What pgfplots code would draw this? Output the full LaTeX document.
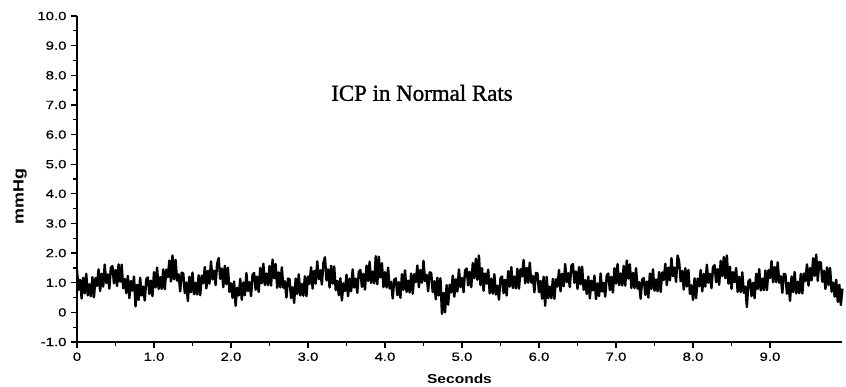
\documentclass[border=0pt]{standalone}
\usepackage{fontspec}
\usepackage{pgfplots}
\pgfplotsset{compat=1.18}
\setmainfont{Liberation Serif}
\newfontfamily\titlefont[FakeBold=1.2]{Liberation Serif}
\newfontfamily\tickfont[FakeStretch=1.25,FakeBold=0.6]{Liberation Sans}
\newfontfamily\labfont[FakeStretch=1.2]{Liberation Sans}
\begin{document}
\begin{tikzpicture}
\begin{axis}[
  name=ax,
  scale only axis,
  width=765bp, height=326bp,
  xmin=0, xmax=9.935, ymin=-1, ymax=10,
  axis lines=left,
  axis line style={-, line width=1.3bp},
  every tick/.style={black, line width=1.2bp},
  tick align=outside,
  major tick length=6bp,
  minor tick length=3.5bp,
  xtick={0,1,2,3,4,5,6,7,8,9},
  xticklabels={0,1.0,2.0,3.0,4.0,5.0,6.0,7.0,8.0,9.0},
  ytick={-1,0,1,2,3,4,5,6,7,8,9,10},
  yticklabels={-1.0,0,1.0,2.0,3.0,4.0,5.0,6.0,7.0,8.0,9.0,10.0},
  minor x tick num=1,
  minor y tick num=1,
  ticklabel style={font=\tickfont\fontsize{12}{14}\selectfont},
  xticklabel style={yshift=-1bp},
  yticklabel style={xshift=-1bp},
  xlabel={\labfont\bfseries\fontsize{13}{15}\selectfont Seconds},
  xlabel style={at={(rel axis cs:0.5,0)}, anchor=center, yshift=-37bp},
  clip=false,
]
\addplot[black, line width=2.4bp, line join=round] table {
x y
0.00 1.43
0.02 0.76
0.04 1.10
0.06 0.47
0.08 1.17
0.10 0.64
0.12 1.30
0.14 0.57
0.16 0.95
0.18 0.54
0.20 1.19
0.22 0.51
0.24 1.16
0.26 0.89
0.28 1.45
0.30 0.72
0.32 1.30
0.34 0.87
0.36 1.61
0.38 0.99
0.40 1.28
0.42 0.80
0.44 1.51
0.46 1.56
0.48 0.98
0.50 1.43
0.52 0.89
0.54 1.62
0.56 1.03
0.58 1.61
0.60 0.81
0.62 1.13
0.64 0.65
0.66 1.23
0.68 0.48
0.70 1.06
0.72 0.73
0.74 1.21
0.76 0.20
0.78 0.93
0.80 0.42
0.82 1.17
0.84 0.57
0.86 0.87
0.88 0.40
0.90 1.12
0.92 1.18
0.94 0.62
0.96 1.07
0.98 0.55
1.00 1.36
1.02 0.84
1.04 1.51
1.06 0.79
1.08 1.19
1.10 0.79
1.12 1.45
1.14 0.78
1.16 1.44
1.18 1.19
1.20 1.75
1.22 1.04
1.24 1.92
1.26 1.11
1.28 1.77
1.30 1.07
1.32 1.28
1.34 0.71
1.36 1.34
1.38 1.31
1.40 0.65
1.42 1.01
1.44 0.38
1.46 1.20
1.48 0.68
1.50 1.34
1.52 0.61
1.54 1.00
1.56 0.60
1.58 1.25
1.60 0.58
1.62 1.24
1.64 0.98
1.66 1.53
1.68 0.81
1.70 1.40
1.72 0.97
1.74 1.72
1.76 1.11
1.78 1.41
1.80 0.92
1.82 1.64
1.84 1.83
1.86 1.13
1.88 1.48
1.90 0.85
1.92 1.57
1.94 0.95
1.96 1.51
1.98 0.69
2.00 0.98
2.02 0.49
2.04 1.04
2.06 0.22
2.08 0.83
2.10 0.57
2.12 1.13
2.14 0.42
2.16 1.01
2.18 0.58
2.20 1.33
2.22 0.72
2.24 1.02
2.26 0.55
2.28 1.27
2.30 1.33
2.32 0.76
2.34 1.21
2.36 0.69
2.38 1.50
2.40 0.98
2.42 1.64
2.44 0.92
2.46 1.31
2.48 0.92
2.50 1.57
2.52 0.90
2.54 1.78
2.56 1.15
2.58 1.63
2.60 0.83
2.62 1.35
2.64 0.84
2.66 1.52
2.68 0.83
2.70 1.05
2.72 0.50
2.74 1.14
2.76 1.12
2.78 0.48
2.80 0.85
2.82 0.32
2.84 1.14
2.86 0.62
2.88 1.28
2.90 0.57
2.92 0.96
2.94 0.56
2.96 1.22
2.98 0.55
3.00 1.21
3.02 0.96
3.04 1.52
3.06 0.80
3.08 1.40
3.10 0.97
3.12 1.72
3.14 1.12
3.16 1.42
3.18 0.94
3.20 1.67
3.22 1.86
3.24 1.08
3.26 1.45
3.28 0.84
3.30 1.57
3.32 0.97
3.34 1.55
3.36 0.75
3.38 1.06
3.40 0.58
3.42 1.15
3.44 0.40
3.46 0.98
3.48 0.72
3.50 1.27
3.52 0.55
3.54 1.14
3.56 0.71
3.58 1.45
3.60 0.84
3.62 1.14
3.64 0.66
3.66 1.37
3.68 1.43
3.70 0.86
3.72 1.30
3.74 0.77
3.76 1.58
3.78 1.06
3.80 1.71
3.82 0.99
3.84 1.38
3.86 0.98
3.88 1.90
3.90 0.95
3.92 1.88
3.94 1.18
3.96 1.66
3.98 0.85
4.00 1.36
4.02 0.84
4.04 1.51
4.06 0.81
4.08 1.03
4.10 0.47
4.12 1.10
4.14 1.15
4.16 0.58
4.18 1.02
4.20 0.49
4.22 1.29
4.24 0.76
4.26 1.42
4.28 0.69
4.30 1.07
4.32 0.67
4.34 1.31
4.36 0.63
4.38 1.29
4.40 1.02
4.42 1.58
4.44 0.85
4.46 1.43
4.48 1.00
4.50 1.74
4.52 1.05
4.54 1.27
4.56 0.71
4.58 1.35
4.60 1.33
4.62 0.68
4.64 1.05
4.66 0.44
4.68 1.17
4.70 0.57
4.72 1.15
4.74 -0.05
4.76 0.66
4.78 0.00
4.80 0.92
4.82 0.26
4.84 0.93
4.86 0.67
4.88 1.24
4.90 0.53
4.92 1.12
4.94 0.70
4.96 1.45
4.98 0.85
5.00 1.16
5.02 0.68
5.04 1.41
5.06 1.48
5.08 0.91
5.10 1.37
5.12 0.85
5.14 1.66
5.16 1.15
5.18 1.81
5.20 1.10
5.22 1.92
5.24 0.92
5.26 1.49
5.28 0.73
5.30 1.31
5.32 0.97
5.34 1.44
5.36 0.64
5.38 1.14
5.40 0.63
5.42 1.29
5.44 0.60
5.46 0.90
5.48 0.43
5.50 1.15
5.52 1.21
5.54 0.65
5.56 1.10
5.58 0.57
5.60 1.39
5.62 0.87
5.64 1.53
5.66 0.82
5.68 1.21
5.70 0.81
5.72 1.47
5.74 0.80
5.76 1.46
5.78 1.21
5.80 1.77
5.82 0.98
5.84 1.50
5.86 1.00
5.88 1.68
5.90 1.00
5.92 1.23
5.94 0.68
5.96 1.33
5.98 1.32
6.00 0.68
6.02 1.06
6.04 0.46
6.06 1.20
6.08 0.22
6.10 1.20
6.12 0.48
6.14 0.87
6.16 0.48
6.18 1.13
6.20 0.46
6.22 1.12
6.24 0.87
6.26 1.43
6.28 0.71
6.30 1.30
6.32 0.88
6.34 1.63
6.36 1.02
6.38 1.32
6.40 0.85
6.42 1.57
6.44 1.63
6.46 1.00
6.48 1.38
6.50 0.79
6.52 1.53
6.54 0.95
6.56 1.54
6.58 0.76
6.60 1.09
6.62 0.62
6.64 1.21
6.66 0.47
6.68 1.07
6.70 0.74
6.72 1.24
6.74 0.45
6.76 0.98
6.78 0.55
6.80 1.31
6.82 0.70
6.84 1.00
6.86 0.53
6.88 1.25
6.90 1.31
6.92 0.75
6.94 1.20
6.96 0.67
6.98 1.49
7.00 0.97
7.02 1.63
7.04 0.92
7.06 1.31
7.08 0.91
7.10 1.57
7.12 0.90
7.14 1.75
7.16 1.14
7.18 1.62
7.20 0.82
7.22 1.33
7.24 0.82
7.26 1.49
7.28 0.80
7.30 1.02
7.32 0.46
7.34 1.10
7.36 1.16
7.38 0.59
7.40 1.04
7.42 0.50
7.44 1.31
7.46 0.79
7.48 1.45
7.50 0.73
7.52 1.11
7.54 0.71
7.56 1.36
7.58 0.69
7.60 1.35
7.62 1.09
7.64 1.64
7.66 0.92
7.68 1.51
7.70 1.08
7.72 1.83
7.74 1.22
7.76 1.51
7.78 1.03
7.80 1.92
7.82 1.71
7.84 1.05
7.86 1.40
7.88 0.77
7.90 1.49
7.92 0.87
7.94 1.43
7.96 0.62
7.98 0.91
8.00 0.42
8.02 1.15
8.04 0.48
8.06 1.14
8.08 0.88
8.10 1.43
8.12 0.71
8.14 1.30
8.16 0.87
8.18 1.61
8.20 1.00
8.22 1.30
8.24 0.82
8.26 1.53
8.28 1.59
8.30 1.02
8.32 1.46
8.34 0.93
8.36 1.74
8.38 1.22
8.40 1.87
8.42 1.15
8.44 1.92
8.46 0.97
8.48 1.54
8.50 0.79
8.52 1.36
8.54 1.02
8.56 1.50
8.58 0.69
8.60 1.20
8.62 0.68
8.64 1.35
8.66 0.66
8.68 0.87
8.70 0.18
8.72 1.04
8.74 1.11
8.76 0.55
8.78 1.00
8.80 0.48
8.82 1.30
8.84 0.79
8.86 1.46
8.88 0.74
8.90 1.14
8.92 0.75
8.94 1.41
8.96 0.75
8.98 1.42
9.00 1.16
9.02 1.73
9.04 1.02
9.06 1.53
9.08 1.02
9.10 1.69
9.12 1.00
9.14 1.22
9.16 0.66
9.18 1.30
9.20 1.28
9.22 0.63
9.24 1.00
9.26 0.39
9.28 1.21
9.30 0.69
9.32 1.36
9.34 0.64
9.36 1.04
9.38 0.65
9.40 1.30
9.42 0.64
9.44 1.31
9.46 1.05
9.48 1.62
9.50 0.90
9.52 1.50
9.54 1.08
9.56 1.83
9.58 1.23
9.60 1.95
9.62 1.06
9.64 1.70
9.66 1.68
9.68 1.03
9.70 1.40
9.72 0.79
9.74 1.52
9.76 0.92
9.78 1.50
9.80 0.70
9.82 1.01
9.84 0.53
9.86 1.10
9.88 0.35
9.90 0.93
9.92 0.25
9.94 0.80
};
\node[anchor=base, font=\titlefont\fontsize{23}{26}\selectfont, inner sep=0pt] at (axis cs:4.48,7.14) {ICP in Normal Rats};
\node[xshift=-57bp, rotate=90, anchor=center, inner sep=0pt, font=\labfont\bfseries\fontsize{15}{17}\selectfont] at (rel axis cs:0,0.447) {mmHg};
\end{axis}
\pgfresetboundingbox
\path[use as bounding box] ([shift={(-77bp,-45bp)}]ax.south west) rectangle ([shift={(4bp,16bp)}]ax.north east);
\end{tikzpicture}
\end{document}
